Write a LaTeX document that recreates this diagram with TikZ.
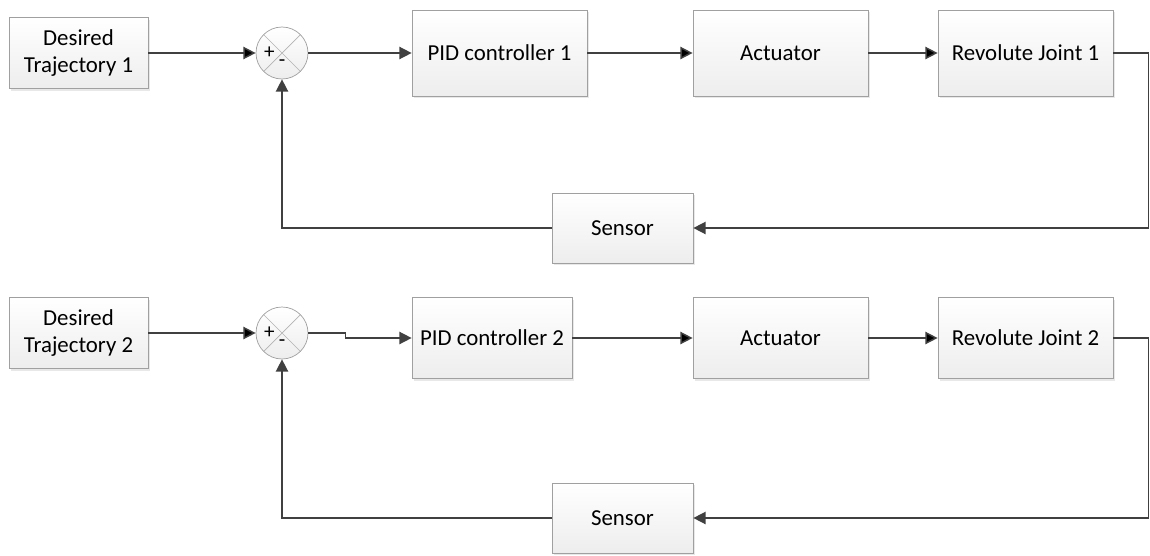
\documentclass[tikz,border=0pt]{standalone}
\usepackage{fontspec}
\setmainfont{Carlito}
\usetikzlibrary{positioning,shadows}
\usetikzlibrary{arrows.meta}
\definecolor{wire}{RGB}{64,64,64}
\definecolor{edgegray}{RGB}{160,160,160}

\begin{document}
\begin{tikzpicture}[on grid,font=\fontsize{13}{15.5}\selectfont,
   block/.style={draw=edgegray,top color=white,bottom color=gray!14,
      minimum width=3.5cm,minimum height=1.72cm,inner sep=2pt,
      drop shadow={opacity=0.18,shadow xshift=1.3pt,shadow yshift=-1.3pt}},
   sum/.style={circle,draw=edgegray,top color=white,bottom color=gray!14,
      minimum size=1.04cm,inner sep=0pt,
      path picture={\draw[edgegray!80] (path picture bounding box.north west) -- (path picture bounding box.south east)
         (path picture bounding box.north east) -- (path picture bounding box.south west);}},
   sign/.style={inner sep=0pt,font=\fontsize{12}{14}\selectfont},
   wire/.style={draw=wire,line width=0.85pt,-{Triangle[length=7pt,width=7pt]}}] 
   \useasboundingbox (0,0) rectangle (23,11.1);
   % first joint
   \node[block,minimum width=2.78cm,minimum height=1.42cm,align=center] (traj_1) at (1.57,10.04) {Desired\\Trajectory 1};
   \node[sum] (sum_1) [right=4.07cm of traj_1] {};
   \node[sign] (plus_1) [right=0.16cm of sum_1.west] {+};
   \node[sign] (minus_1) [above=0.25cm of sum_1.south] {-};
   \node[block] (pid_1) [right=4.35cm of sum_1] {PID controller 1};
   \node[block] (act_1) [right=5.62cm of pid_1] {Actuator};
   \node[block] (joint_1) [right=4.9cm of act_1] {Revolute Joint 1};
   \node[block,minimum width=2.82cm,minimum height=1.4cm] (sens_1) at (12.45,6.54) {Sensor};
   \path[wire]
    (traj_1) edge (sum_1)
    (pid_1) edge (act_1)
    (act_1) edge (joint_1);
   \draw[wire] (sum_1.east) -- ++(0.74,0) |- (pid_1.west);
   \draw[wire] (joint_1.east) -- ++(0.7,0) |- (sens_1.east);
   \draw[wire] (sens_1.west) -| (sum_1.south);
   % second joint
   \node[block,minimum width=2.78cm,minimum height=1.42cm,align=center] (traj_2) at (1.57,4.44) {Desired\\Trajectory 2};
   \node[sum] (sum_2) [right=4.07cm of traj_2] {};
   \node[sign] (plus_2) [right=0.16cm of sum_2.west] {+};
   \node[sign] (minus_2) [above=0.25cm of sum_2.south] {-};
   \node[block,minimum width=3.2cm,minimum height=1.62cm] (pid_2) at (9.84,4.34) {PID controller 2};
   \node[block,minimum height=1.62cm] (act_2) at (15.61,4.34) {Actuator};
   \node[block,minimum height=1.62cm] (joint_2) [right=4.9cm of act_2] {Revolute Joint 2};
   \node[block,minimum width=2.82cm,minimum height=1.4cm] (sens_2) at (12.45,0.74) {Sensor};
   \path[wire]
    (traj_2) edge (sum_2)
    (pid_2) edge (act_2)
    (act_2) edge (joint_2);
   \draw[wire] (sum_2.east) -- ++(0.74,0) |- (pid_2.west);
   \draw[wire] (joint_2.east) -- ++(0.7,0) |- (sens_2.east);
   \draw[wire] (sens_2.west) -| (sum_2.south);
\end{tikzpicture}
\end{document}
